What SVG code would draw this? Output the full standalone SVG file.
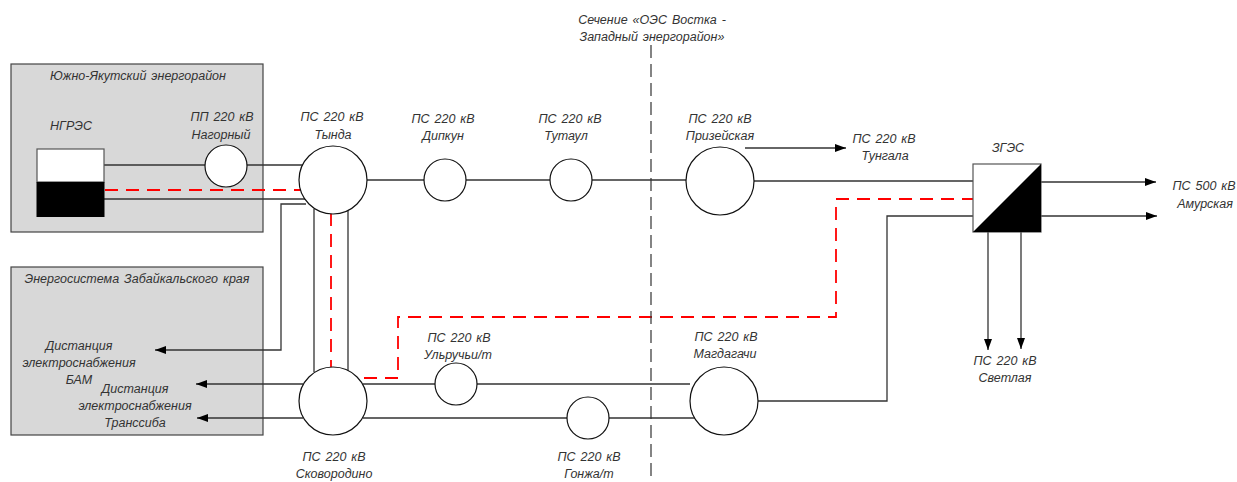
<svg xmlns="http://www.w3.org/2000/svg" width="1237" height="482" viewBox="0 0 1237 482">
<style>
text{font-family:"Liberation Sans",Arial,sans-serif;font-style:italic;font-size:12.5px;fill:#333;text-anchor:middle;word-spacing:1.5px}
.box{fill:#d8d8d8;stroke:#444;stroke-width:1.2}
.n{fill:#fff;stroke:#111;stroke-width:1.2}
.l{fill:none;stroke:#333;stroke-width:1.3}
.a{fill:none;stroke:#333;stroke-width:1.3;marker-end:url(#ar)}
.r{fill:none;stroke:#f00;stroke-width:1.8;stroke-dasharray:13 8}
.s{fill:none;stroke:#333;stroke-width:1.2;stroke-dasharray:13 6}
</style>
<defs><marker id="ar" markerUnits="userSpaceOnUse" markerWidth="12" markerHeight="8" refX="11" refY="4" orient="auto"><path d="M0 0L11 4L0 8Z" fill="#000"/></marker></defs>
<g id="region-south-yakutia"><rect class="box" x="11" y="64" width="252" height="168"/><text x="138" y="80">Южно-Якутский энергорайон</text></g>
<g id="region-zabaykalye"><rect class="box" x="11" y="267" width="252" height="168"/><text x="137" y="283">Энергосистема Забайкальского края</text></g>
<g id="connectors">
<path class="l" d="M104 165H205M247 165H303M104 199H306M367 180H424M466 180H550M592 180H686M754 181H973M314 209V372M348 209V372M363 384H435M477 384H690M363 418H567M609 418H695M758 401H887V216H973"/>
<path class="a" d="M306 204H281V350H155"/>
<path class="a" d="M303 384H196"/>
<path class="a" d="M303 418H197"/>
<path class="a" d="M745 148H846"/>
<path class="a" d="M1041 182H1156"/>
<path class="a" d="M1041 216H1157"/>
<path class="a" d="M988 232V350"/>
<path class="a" d="M1021 232V349"/>
<path class="r" d="M105 190H301"/>
<path class="r" d="M331 213V367"/>
<path class="r" d="M364 378H398V317H836V199H973"/>
<path class="s" d="M651 45V482"/>
</g>
<g id="ngres"><rect x="37" y="149" width="67" height="33" fill="#fff" stroke="#555" stroke-width="1.2"/><rect x="36.500" y="182" width="68" height="35" fill="#000"/><text x="71" y="130">НГРЭС</text></g>
<g id="nagorny"><circle class="n" cx="226" cy="166" r="21"/><text x="222" y="121">ПП 220 кВ</text><text x="221" y="139">Нагорный</text></g>
<g id="tynda"><circle class="n" cx="333" cy="180" r="34"/><text x="332" y="121">ПС 220 кВ</text><text x="333" y="139">Тында</text></g>
<g id="dipkun"><circle class="n" cx="445" cy="180" r="21"/><text x="443" y="123">ПС 220 кВ</text><text x="443" y="140">Дипкун</text></g>
<g id="tutaul"><circle class="n" cx="571" cy="180" r="21"/><text x="570" y="123">ПС 220 кВ</text><text x="566" y="140">Тутаул</text></g>
<g id="prizeyskaya"><circle class="n" cx="720" cy="181" r="34"/><text x="720" y="123">ПС 220 кВ</text><text x="720" y="140">Призейская</text></g>
<g id="tungala"><text x="884" y="143">ПС 220 кВ</text><text x="885" y="160">Тунгала</text></g>
<g id="zges"><rect x="973" y="164" width="68" height="68" fill="#fff" stroke="#555" stroke-width="1.2"/><path d="M973 232L1041 164V232Z" fill="#000"/><text x="1008" y="152">ЗГЭС</text></g>
<g id="amurskaya"><text x="1204" y="190">ПС 500 кВ</text><text x="1205" y="208">Амурская</text></g>
<g id="svetlaya"><text x="1005" y="365">ПС 220 кВ</text><text x="1005" y="382">Светлая</text></g>
<g id="skovorodino"><circle class="n" cx="333" cy="401" r="34"/><text x="334" y="461">ПС 220 кВ</text><text x="334" y="478">Сковородино</text></g>
<g id="ulruchi"><circle class="n" cx="456" cy="384" r="21"/><text x="459" y="342">ПС 220 кВ</text><text x="458" y="359">Ульручьи/т</text></g>
<g id="gonzha"><circle class="n" cx="588" cy="418" r="21"/><text x="589" y="461">ПС 220 кВ</text><text x="589" y="478">Гонжа/т</text></g>
<g id="magdagachi"><circle class="n" cx="724" cy="401" r="34"/><text x="726" y="341">ПС 220 кВ</text><text x="725" y="358">Магдагачи</text></g>
<g id="bam-dist"><text x="79" y="350">Дистанция</text><text x="79" y="367">электроснабжения</text><text x="79" y="384">БАМ</text></g>
<g id="transsib-dist"><text x="135" y="393">Дистанция</text><text x="135" y="410">электроснабжения</text><text x="135" y="427">Транссиба</text></g>
<g id="section-label"><text x="652" y="24">Сечение «ОЭС Востка -</text><text x="652" y="41">Западный энергорайон»</text></g>
</svg>
